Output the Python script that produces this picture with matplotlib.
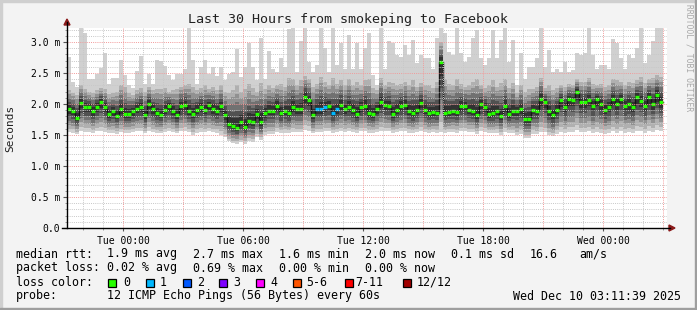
import numpy as np
import matplotlib.pyplot as plt
from matplotlib.patches import Rectangle, Polygon
from matplotlib.lines import Line2D

plt.rcParams['font.family'] = ['DejaVu Sans Mono']

# median rtt per 12-minute step (ms)
rtt_median = [
    1.92, 1.89, 1.78, 2.02, 1.95, 1.95, 1.88, 1.95, 2.03, 1.95,
    1.84, 1.88, 1.81, 1.92, 1.84, 1.84, 1.88, 1.92, 1.95, 1.82,
    2.00, 1.92, 1.85, 1.83, 1.91, 1.97, 1.89, 1.82, 1.97, 1.98,
    1.89, 1.84, 1.91, 1.95, 1.91, 1.98, 1.92, 1.89, 1.96, 1.82,
    1.68, 1.65, 1.62, 1.71, 1.63, 1.73, 1.71, 1.84, 1.71, 1.85,
    1.89, 1.89, 1.97, 1.85, 1.89, 1.85, 1.95, 1.92, 1.92, 2.12,
    2.06, 1.82, 1.92, 1.92, 1.95, 1.97, 1.85, 1.92, 1.98, 1.92,
    1.95, 1.91, 1.84, 1.95, 1.97, 1.86, 1.84, 1.92, 2.03, 1.98,
    1.97, 1.84, 1.91, 1.97, 1.98, 1.89, 1.85, 1.91, 2.02, 1.91,
    1.85, 1.87, 1.86, 2.68, 1.85, 1.87, 1.89, 1.87, 1.97, 1.97,
    1.91, 1.89, 1.82, 2.00, 1.95, 1.84, 1.85, 1.89, 1.80, 1.96,
    1.84, 1.88, 1.88, 1.92, 1.76, 1.76, 1.91, 1.89, 2.08, 2.03,
    1.88, 1.82, 1.91, 2.06, 1.95, 2.08, 2.07, 2.19, 2.03, 2.03,
    2.07, 1.97, 2.08, 2.00, 1.91, 1.95, 2.08, 2.00, 2.08, 1.97,
    2.00, 1.95, 2.11, 2.05, 1.97, 2.11, 2.00, 2.15, 2.03,
]

# slowest ping per step
rtt_max = [
    2.75, 2.35, 2.27, 3.22, 3.14, 2.40, 2.40, 2.49, 2.58, 2.82,
    2.32, 2.42, 2.42, 2.71, 2.47, 2.31, 2.26, 2.54, 2.78, 2.32,
    2.49, 2.33, 2.71, 2.69, 2.62, 2.46, 2.39, 2.48, 2.48, 2.56,
    3.22, 2.71, 2.33, 2.60, 2.71, 2.49, 2.60, 2.45, 2.60, 2.38,
    2.49, 2.52, 2.89, 2.44, 2.60, 2.98, 2.60, 2.38, 3.06, 2.41,
    2.86, 2.57, 2.52, 2.74, 2.60, 3.21, 3.22, 2.52, 3.01, 3.23,
    2.68, 2.52, 2.63, 3.22, 2.90, 2.52, 3.22, 2.63, 2.98, 2.57,
    3.11, 2.57, 2.98, 2.57, 2.90, 3.15, 2.47, 2.31, 3.23, 2.57,
    3.01, 2.98, 2.79, 2.76, 2.95, 2.79, 3.03, 2.66, 2.79, 2.74,
    2.74, 2.57, 3.06, 3.23, 3.14, 2.84, 2.79, 3.22, 2.82, 2.68,
    2.76, 3.06, 3.19, 2.74, 2.63, 2.74, 3.19, 2.74, 3.03, 3.22,
    2.68, 3.03, 2.31, 2.82, 2.41, 2.60, 2.60, 2.74, 3.22, 2.60,
    2.87, 2.52, 2.57, 2.52, 2.68, 2.52, 2.55, 2.82, 2.79, 2.82,
    3.22, 2.79, 2.57, 2.63, 2.63, 2.57, 3.05, 2.98, 2.74, 2.57,
    2.79, 2.74, 2.90, 3.22, 2.66, 2.79, 3.01, 3.22, 3.22,
]

# second slowest ping per step
rtt_high = [
    2.22, 2.18, 2.15, 2.30, 2.25, 2.20, 2.18, 2.22, 2.26, 2.24,
    2.16, 2.18, 2.20, 2.30, 2.28, 2.18, 2.15, 2.22, 2.26, 2.20,
    2.28, 2.22, 2.25, 2.24, 2.26, 2.20, 2.22, 2.24, 2.28, 2.30,
    2.32, 2.28, 2.22, 2.26, 2.30, 2.25, 2.28, 2.22, 2.30, 2.20,
    2.18, 2.22, 2.30, 2.20, 2.24, 2.32, 2.26, 2.20, 2.34, 2.24,
    2.30, 2.26, 2.30, 2.32, 2.28, 2.42, 2.40, 2.30, 2.38, 2.45,
    2.40, 2.28, 2.32, 2.44, 2.36, 2.30, 2.42, 2.32, 2.38, 2.30,
    2.40, 2.30, 2.36, 2.30, 2.38, 2.40, 2.26, 2.22, 2.42, 2.30,
    2.36, 2.34, 2.30, 2.32, 2.36, 2.30, 2.38, 2.28, 2.34, 2.30,
    2.30, 2.26, 2.36, 3.00, 2.40, 2.32, 2.30, 2.40, 2.32, 2.28,
    2.30, 2.36, 2.40, 2.30, 2.26, 2.30, 2.38, 2.28, 2.34, 2.40,
    2.26, 2.34, 2.18, 2.30, 2.20, 2.24, 2.24, 2.28, 2.42, 2.26,
    2.30, 2.22, 2.26, 2.30, 2.28, 2.32, 2.30, 2.40, 2.36, 2.36,
    2.42, 2.32, 2.30, 2.32, 2.28, 2.30, 2.40, 2.38, 2.36, 2.30,
    2.36, 2.34, 2.38, 2.44, 2.34, 2.40, 2.42, 2.46, 2.44,
]

# fastest ping per step
rtt_min = [
    1.55, 1.54, 1.52, 1.56, 1.55, 1.55, 1.54, 1.56, 1.57, 1.55,
    1.54, 1.53, 1.52, 1.55, 1.54, 1.54, 1.55, 1.56, 1.56, 1.53,
    1.57, 1.55, 1.54, 1.53, 1.55, 1.56, 1.55, 1.53, 1.56, 1.57,
    1.55, 1.50, 1.54, 1.55, 1.55, 1.56, 1.55, 1.54, 1.50, 1.47,
    1.40, 1.37, 1.36, 1.38, 1.36, 1.40, 1.39, 1.46, 1.42, 1.50,
    1.52, 1.52, 1.55, 1.53, 1.54, 1.53, 1.55, 1.55, 1.55, 1.58,
    1.57, 1.53, 1.55, 1.55, 1.56, 1.56, 1.53, 1.55, 1.56, 1.55,
    1.56, 1.55, 1.53, 1.56, 1.56, 1.54, 1.53, 1.55, 1.57, 1.56,
    1.56, 1.53, 1.55, 1.56, 1.56, 1.54, 1.53, 1.55, 1.57, 1.55,
    1.54, 1.55, 1.54, 1.55, 1.54, 1.55, 1.55, 1.54, 1.56, 1.56,
    1.55, 1.55, 1.52, 1.56, 1.55, 1.53, 1.53, 1.54, 1.50, 1.55,
    1.53, 1.54, 1.50, 1.52, 1.45, 1.45, 1.52, 1.52, 1.55, 1.55,
    1.50, 1.48, 1.52, 1.55, 1.53, 1.55, 1.55, 1.58, 1.55, 1.55,
    1.56, 1.53, 1.55, 1.54, 1.52, 1.53, 1.56, 1.54, 1.56, 1.54,
    1.55, 1.53, 1.57, 1.56, 1.54, 1.57, 1.55, 1.58, 1.56,
]

# lost pings per step (out of 12)
lost = [0] * 149
for i in (62, 63, 64, 66, 67):
    lost[i] = 1

loss_labels = ["0", "1", "2", "3", "4", "5-6", "7-11", "12/12"]
loss_colors = ["#26ff00", "#00b8ff", "#0059ff", "#7e00ff", "#ff00ff",
               "#ff5500", "#ff0000", "#a10000"]

tick_hours = [0, 6, 12, 18, 24]
tick_names = ["Tue 00:00", "Tue 06:00", "Tue 12:00", "Tue 18:00", "Wed 00:00"]
y_ticks = [0.0, 0.5, 1.0, 1.5, 2.0, 2.5, 3.0]
y_names = ["0.0", "0.5 m", "1.0 m", "1.5 m", "2.0 m", "2.5 m", "3.0 m"]

rtt_stats = [("1.9 ms avg", 107), ("2.7 ms max", 193), ("1.6 ms min", 279),
             ("2.0 ms now", 365), ("0.1 ms sd", 451), ("16.6", 530), ("am/s", 579)]
loss_stats = [("0.02 % avg", 107), ("0.69 % max", 193), ("0.00 % min", 279),
              ("0.00 % now", 365)]

W, H = 697, 310


def fx(px):
    return px / W


def fy(py):
    return 1 - py / H


fig = plt.figure(figsize=(W / 100, H / 100), dpi=100, facecolor="#f3f3f3")
ax = fig.add_axes([fx(67), fy(228), 600 / W, 200 / H])
ax.set_facecolor("white")
ax.set_xlim(-2.8, 27.2)
ax.set_ylim(0, 200 / 62)

med = np.array(rtt_median)
hi = np.array(rtt_high)
top = np.array(rtt_max)
low = np.array(rtt_min)
n = len(med)
step = 0.2  # 12 minutes
x = -2.8 + step * np.arange(n)

# smoke: outermost light, inner dark
shades = ["#d0d0d0", "#b0b0b0", "#919191", "#717171", "#515151", "#323232"]
fr_lo = [1.0, 0.86, 0.69, 0.54, 0.37, 0.2]
fr_hi = [None, 1.0, 0.8, 0.6, 0.4, 0.22]
for k, c in enumerate(shades):
    b = med - (med - low) * fr_lo[k]
    if fr_hi[k] is None:
        t = top
    else:
        t = med + (hi - med) * fr_hi[k]
    ax.bar(x, t - b, bottom=b, width=step, align="edge", color=c,
           linewidth=0, zorder=1)

# median line
ax.step(np.append(x, x[-1] + step), np.append(med, med[-1]), where="post",
        color="#151515", lw=1.0, zorder=3)
ax.hlines(med, x, x + step, colors=[loss_colors[v] for v in lost],
          lw=2.4, zorder=4)

# grid
dot = (0, (1, 1.2))
for v in np.arange(0.1, 3.25, 0.1):
    if abs(v / 0.5 - round(v / 0.5)) > 1e-6:
        ax.axhline(v, color="#c8c8c8", lw=0.7, ls=dot, zorder=5)
for v in y_ticks[1:]:
    ax.axhline(v, color="#f29a9a", lw=0.7, ls=dot, zorder=5)
for h in range(-2, 28):
    if h % 3:
        ax.axvline(h, color="#c8c8c8", lw=0.7, ls=dot, zorder=5)
    else:
        ax.axvline(h, color="#f29a9a", lw=0.7, ls=dot, zorder=5)

for s in ax.spines.values():
    s.set_visible(False)

ax.set_xticks(tick_hours)
ax.set_xticklabels(tick_names, fontsize=7.0)
ax.set_xticks(range(-2, 28), minor=True)
ax.set_yticks(y_ticks)
ax.set_yticklabels(y_names, fontsize=7.0)
ax.set_yticks(np.arange(0.1, 3.25, 0.1), minor=True)
ax.tick_params(axis="x", which="major", length=2.5, width=0.8, pad=3,
               color="#555555")
ax.tick_params(axis="y", which="major", length=3, width=0.8, pad=2,
               color="#555555")
ax.tick_params(which="minor", length=1.2, width=0.6, color="#888888")

# axes with arrows
fig.add_artist(Line2D([fx(67), fx(67)], [fy(228), fy(22)], color="black",
                      lw=1.0, transform=fig.transFigure))
fig.add_artist(Line2D([fx(62), fx(670)], [fy(228), fy(228)], color="black",
                      lw=1.0, transform=fig.transFigure))
fig.add_artist(Polygon([[fx(64), fy(25)], [fx(70), fy(25)], [fx(67), fy(19)]],
                       closed=True, color="#8b1a1a", transform=fig.transFigure))
fig.add_artist(Polygon([[fx(669), fy(225)], [fx(669), fy(231)], [fx(675), fy(228)]],
                       closed=True, color="#8b1a1a", transform=fig.transFigure))

# frame
fig.add_artist(Rectangle((0, 0), fx(2), 1, color="#cfcfcf", transform=fig.transFigure))
fig.add_artist(Rectangle((0, fy(2)), 1, 2 / H, color="#cfcfcf", transform=fig.transFigure))
fig.add_artist(Rectangle((fx(695), 0), 2 / W, 1, color="#9e9e9e", transform=fig.transFigure))
fig.add_artist(Rectangle((0, 0), 1, 2 / H, color="#9e9e9e", transform=fig.transFigure))

# texts
fig.text(fx(348), fy(19), "Last 30 Hours from smokeping to Facebook",
         ha="center", va="center", fontsize=9.6, color="#222222")
fig.text(fx(10), fy(128), "Seconds", rotation=90, ha="center", va="center",
         fontsize=8.0, color="#222222")
fig.text(fx(689), fy(4), "RRDTOOL / TOBI OETIKER", rotation=270, ha="center",
         va="top", fontsize=5.8, color="#a8a8a8")

fs = 8.4
row = [254, 268, 282, 296]
fig.text(fx(16), fy(row[0]), "median rtt:", va="center", fontsize=fs)
for s, px in rtt_stats:
    fig.text(fx(px), fy(row[0]), s, va="center", fontsize=fs)
fig.text(fx(16), fy(row[1]), "packet loss:", va="center", fontsize=fs)
for s, px in loss_stats:
    fig.text(fx(px), fy(row[1]), s, va="center", fontsize=fs)
fig.text(fx(16), fy(row[2]), "loss color:", va="center", fontsize=fs)
box_x = [108, 145.5, 182.5, 219, 256, 293, 344.5, 403]
lab_x = [123, 160, 197, 233, 270.5, 306.5, 355, 416.5]
for lbl, c, bx, lx in zip(loss_labels, loss_colors, box_x, lab_x):
    fig.add_artist(Rectangle((fx(bx), fy(286.5)), 8 / W, 8 / H, facecolor=c,
                             edgecolor="black", lw=0.9, transform=fig.transFigure))
    fig.text(fx(lx), fy(row[2]), lbl, va="center", fontsize=fs)
fig.text(fx(16), fy(row[3]), "probe:", va="center", fontsize=fs)
fig.text(fx(107), fy(row[3]), "12 ICMP Echo Pings (56 Bytes) every 60s",
         va="center", fontsize=fs)
fig.text(fx(681), fy(row[3]), "Wed Dec 10 03:11:39 2025", ha="right",
         va="center", fontsize=fs)

fig.savefig("out.png", dpi=100, facecolor=fig.get_facecolor())
